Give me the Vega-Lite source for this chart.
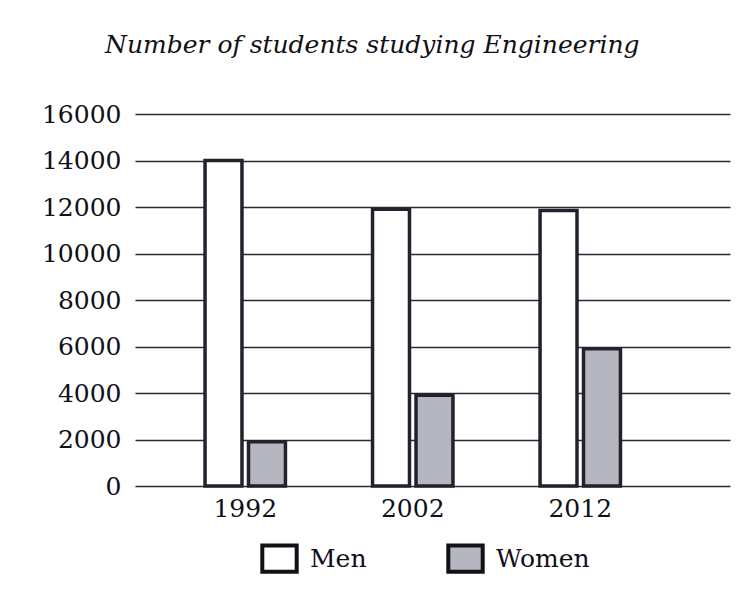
{
  "$schema": "https://vega.github.io/schema/vega-lite/v6.json",
  "autosize": {"type": "none"},
  "width": 595,
  "height": 372,
  "padding": {"left": 135, "top": 114, "right": 17, "bottom": 109},
  "background": "white",
  "title": {
    "text": "Number of students studying Engineering",
    "anchor": "start",
    "frame": "group",
    "dx": -30,
    "offset": 44,
    "font": "DejaVu Serif",
    "fontStyle": "italic",
    "fontWeight": "normal",
    "fontSize": 25,
    "color": "#101018"
  },
  "data": {
    "values": [
      {"year": "1992", "gender": "Men", "students": 14000},
      {"year": "1992", "gender": "Women", "students": 1900},
      {"year": "2002", "gender": "Men", "students": 11900},
      {"year": "2002", "gender": "Women", "students": 3900},
      {"year": "2012", "gender": "Men", "students": 11850},
      {"year": "2012", "gender": "Women", "students": 5900}
    ]
  },
  "mark": {"type": "bar", "stroke": "#22222c", "strokeWidth": 3.5, "strokeJoin": "miter"},
  "encoding": {
    "x": {
      "field": "year",
      "type": "nominal",
      "scale": {"paddingInner": 0.52, "paddingOuter": 0.536, "align": 0.39},
      "axis": {
        "title": null,
        "labelAngle": 0,
        "domain": false,
        "ticks": false,
        "labelPadding": 10,
        "labelFont": "DejaVu Serif",
        "labelFontSize": 25,
        "labelColor": "#101018"
      }
    },
    "xOffset": {
      "field": "gender",
      "type": "nominal",
      "scale": {"paddingInner": 0.15, "paddingOuter": 0}
    },
    "y": {
      "field": "students",
      "type": "quantitative",
      "scale": {"domain": [0, 16000], "nice": false},
      "axis": {
        "title": null,
        "values": [0, 2000, 4000, 6000, 8000, 10000, 12000, 14000, 16000],
        "format": "d",
        "domain": false,
        "ticks": false,
        "labelPadding": 14,
        "labelFont": "DejaVu Serif",
        "labelFontSize": 25,
        "labelColor": "#101018",
        "grid": true,
        "gridColor": "#2a2a34",
        "gridWidth": 1.4,
        "gridOpacity": 1
      }
    },
    "fill": {
      "field": "gender",
      "type": "nominal",
      "scale": {"domain": ["Men", "Women"], "range": ["#ffffff", "#b6b6c0"]},
      "legend": {
        "title": null,
        "orient": "none",
        "direction": "horizontal",
        "legendX": 129,
        "legendY": 429,
        "symbolType": "M-1.3,-1L1.3,-1L1.3,1L-1.3,1Z",
        "symbolSize": 700,
        "symbolStrokeColor": "#111118",
        "symbolStrokeWidth": 4,
        "symbolOpacity": 1,
        "labelFont": "DejaVu Serif",
        "labelFontSize": 25,
        "labelColor": "#101018",
        "labelOffset": 15,
        "columnPadding": 73
      }
    }
  },
  "config": {
    "view": {"stroke": null}
  }
}
